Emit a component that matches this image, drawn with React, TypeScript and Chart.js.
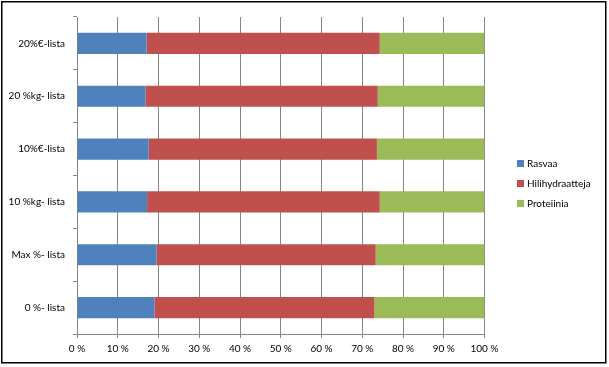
import React, { useEffect, useRef } from "react";
import { Chart, registerables } from "chart.js";

Chart.register(...registerables);

const categories = ["20%€-lista", "20 %kg- lista", "10%€-lista", "10 %kg- lista", "Max %- lista", "0 %- lista"];
const rasvaa = [17.1, 16.8, 17.6, 17.2, 19.5, 19.0];
const hiilihydraatit = [57.2, 57.0, 56.0, 57.1, 53.8, 54.0];
const proteiini = [25.7, 26.2, 26.4, 25.7, 26.7, 27.0];
const seriesNames = ["Rasvaa", "Hilihydraatteja", "Proteiinia"];
const seriesColors = ["#4F81BD", "#C0504D", "#9BBB59"];

const FONT = "Lato, 'Liberation Sans', sans-serif";

const framePlugin = {
  id: "frame",
  beforeDraw(chart: any) {
    const ctx = chart.ctx;
    ctx.save();
    ctx.fillStyle = "#ffffff";
    ctx.fillRect(0, 0, chart.width, chart.height);
    ctx.restore();
  },
  afterDraw(chart: any) {
    const ctx = chart.ctx;
    const area = chart.chartArea;
    ctx.save();
    ctx.strokeStyle = "#000000";
    ctx.lineWidth = 1.5;
    ctx.strokeRect(1.75, 1.75, 604, 361);
    // legend
    const ds = chart.data.datasets;
    const x0 = area.right + 32.5;
    const spacing = 20;
    const midY = chart.height / 2;
    ctx.font = "10px " + FONT;
    ctx.textBaseline = "middle";
    ctx.textAlign = "left";
    ds.forEach((d: any, i: number) => {
      const y = midY + (i - (ds.length - 1) / 2) * spacing;
      ctx.fillStyle = d.backgroundColor;
      ctx.fillRect(x0, y - 3.5, 7, 7);
      ctx.fillStyle = "#000000";
      ctx.fillText(d.label, x0 + 10, y + 0.5);
    });
    ctx.restore();
  },
};

export default function App() {
  const ref = useRef<HTMLCanvasElement | null>(null);
  useEffect(() => {
    if (!ref.current) return;
    const data = [rasvaa, hiilihydraatit, proteiini];
    const chart = new Chart(ref.current, {
      type: "bar",
      data: {
        labels: categories,
        datasets: data.map((vals, i) => ({
          label: seriesNames[i],
          data: vals,
          backgroundColor: seriesColors[i],
          borderWidth: 0,
          barPercentage: 0.4,
          categoryPercentage: 1.0,
        })),
      },
      options: {
        indexAxis: "y",
        responsive: false,
        animation: false,
        layout: { padding: { left: 0, right: 124.5, top: 17, bottom: 0 } },
        plugins: { legend: { display: false }, tooltip: { enabled: false } },
        scales: {
          x: {
            stacked: true,
            min: 0,
            max: 100,
            ticks: {
              stepSize: 10,
              color: "#000000",
              font: { family: FONT, size: 10 },
              padding: 5,
              maxRotation: 0,
              callback: (v: any) => v + " %",
            },
            grid: { color: "#868686", lineWidth: 1, tickLength: 4, drawTicks: true },
            border: { color: "#868686", width: 1 },
            afterFit: (s: any) => { s.height = 33; },
          },
          y: {
            stacked: true,
            offset: true,
            ticks: {
              color: "#000000",
              font: { family: FONT, size: 10 },
              padding: 8,
            },
            grid: { offset: true, drawOnChartArea: false, drawTicks: true, tickLength: 4, color: "#868686" },
            border: { color: "#868686", width: 1 },
            afterFit: (s: any) => { s.width = 77; },
          },
        },
      },
      plugins: [framePlugin],
    } as any);
    return () => chart.destroy();
  }, []);
  return (
    <div style={{ position: "absolute", left: 0, top: 0, width: 609, height: 367 }}>
      <canvas ref={ref} width={609} height={367} style={{ display: "block" }} />
    </div>
  );
}
